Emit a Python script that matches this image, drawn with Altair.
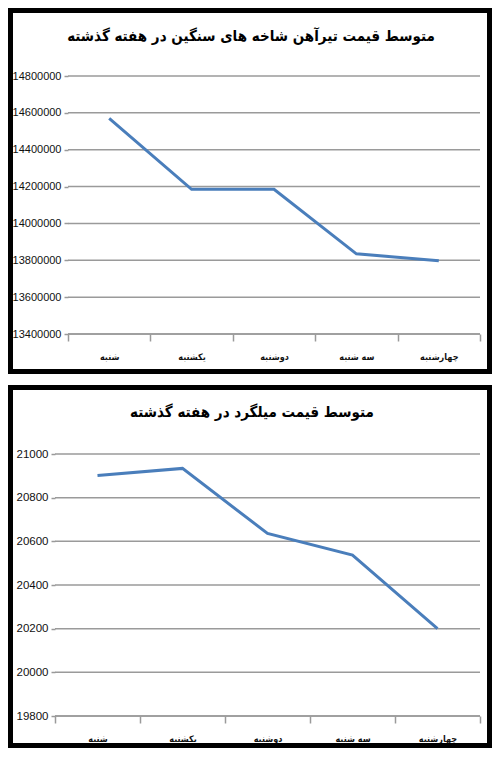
import altair as alt
import pandas as pd

days = ["شنبه", "یکشنبه", "دوشنبه", "سه شنبه", "چهارشنبه"]
beam_prices = [14570000, 14185000, 14185000, 13835000, 13798000]
rebar_prices = [20902, 20934, 20636, 20537, 20200]
beam_ticks = [13400000, 13600000, 13800000, 14000000, 14200000, 14400000, 14600000, 14800000]
rebar_ticks = [19800, 20000, 20200, 20400, 20600, 20800, 21000]
title_beam = "متوسط قیمت تیرآهن شاخه های سنگین در  هفته گذشته"
title_rebar = "متوسط قیمت میلگرد در  هفته گذشته"

LINE = "#4a7ebb"
GRID = "#9a9a9a"
NUM_FONT = "Liberation Sans"
FA_FONT = "DejaVu Sans Condensed"
W = 425


def panel(values, ticks, title, h, left, box, title_xy, label_size):
    df = pd.DataFrame({"day": days, "price": values})
    tdf = pd.DataFrame({"price": ticks})
    yscale = alt.Scale(domain=[ticks[0], ticks[-1]], nice=False, zero=False)
    yaxis = alt.Axis(values=ticks, format="d", domain=False, tickSize=4,
                     tickColor=GRID, tickWidth=1.5, grid=False, offset=-left,
                     labelOverlap=False, labelFont=NUM_FONT,
                     labelFontSize=label_size, labelColor="#111", labelPadding=3)
    x = alt.X("day:N", sort=days, title=None,
              scale=alt.Scale(type="band", paddingInner=0, paddingOuter=0, range=[left, W]),
              axis=alt.Axis(labelAngle=0, tickBand="extent", tickSize=7, tickColor=GRID,
                            domain=False, tickWidth=1.5, grid=False,
                            labelFont=FA_FONT, labelFontSize=9, labelFontWeight="bold",
                            labelColor="#111", labelPadding=11, labelBaseline="top"))
    y = alt.Y("price:Q", title=None, scale=yscale, axis=yaxis)
    grid = alt.Chart(tdf).mark_rule(color=GRID, strokeWidth=1.5).encode(
        y=alt.Y("price:Q", title=None, scale=yscale, axis=yaxis),
        x=alt.value(left), x2=alt.value(W))
    base = alt.Chart(alt.Data(values=[{"k": 1}])).mark_rule(color=GRID, strokeWidth=1.5).encode(
        y=alt.value(h), x=alt.value(left), x2=alt.value(W))
    line = alt.Chart(df).mark_line(color=LINE, strokeWidth=3).encode(x=x, y=y)
    one = alt.Data(values=[{"k": 1}])
    border = alt.Chart(one).mark_rect(fillOpacity=0, stroke="black", strokeWidth=5).encode(
        x=alt.value(box[0]), x2=alt.value(box[1]), y=alt.value(box[2]), y2=alt.value(box[3]))
    ttl = alt.Chart(one).mark_text(text=title, font="DejaVu Sans Condensed", fontWeight="bold",
                                   fontSize=15, color="black", align="center",
                                   baseline="middle").encode(
        x=alt.value(title_xy[0]), y=alt.value(title_xy[1]))
    return alt.layer(border, ttl, grid, base, line).properties(width=W, height=h)


top = panel(beam_prices, beam_ticks, title_beam, 258, 13,
            (-44.5, 434.5, -65.5, 295.5), (196, -40), 11)
bottom = panel(rebar_prices, rebar_ticks, title_rebar, 262, 0,
               (-44.5, 434.5, -66.5, 291.5), (197, -42), 11.5)

chart = alt.concat(top, bottom, columns=1, spacing=11).properties(
    padding=0, background="white"
).configure_view(stroke=None)

chart.save("out.html", embed_options={"renderer": "svg", "actions": False})
